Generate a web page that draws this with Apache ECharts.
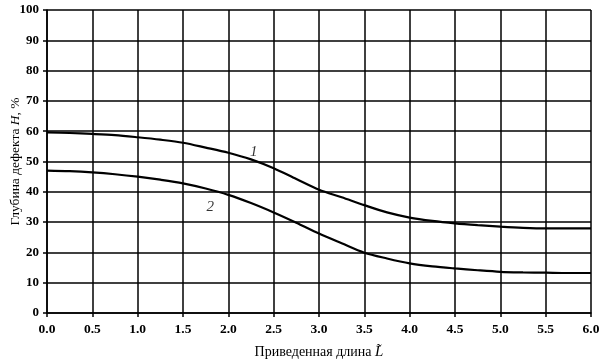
<!DOCTYPE html>
<html><head><meta charset="utf-8">
<script src="https://cdn.jsdelivr.net/npm/echarts@6/dist/echarts.min.js"></script>
<style>html,body{margin:0;padding:0;background:#fff}#c{width:605px;height:363px}</style>
</head><body><div id="c"></div>
<script>
const xValues = [0,0.25,0.5,0.75,1.0,1.25,1.5,1.75,2.0,2.25,2.5,2.75,3.0,3.25,3.5,3.75,4.0,4.25,4.5,4.75,5.0,5.25,5.5,5.75,6.0];
const curve1 = [59.6,59.4,59.1,58.7,58.0,57.2,56.2,54.6,52.9,50.7,47.8,44.2,40.7,38.2,35.6,33.2,31.5,30.4,29.6,29.0,28.5,28.1,27.9,27.9,27.9];
const curve2 = [47.0,46.8,46.4,45.8,45.0,44.0,42.8,41.1,39.0,36.3,33.2,29.8,26.2,23.0,19.9,18.0,16.4,15.4,14.7,14.1,13.6,13.4,13.3,13.2,13.2];
const curveLabels = [{name:'1', x:2.28, y:53}, {name:'2', x:1.80, y:35}];

const chart = echarts.init(document.getElementById('c'), null, {renderer:'canvas'});
const serif = '"Liberation Serif", "DejaVu Serif", serif';
chart.setOption({
  animation:false,
  backgroundColor:'#fff',
  grid:{left:47, right:14, top:10, bottom:50, containLabel:false, outerBoundsMode:'none'},
  xAxis:{
    type:'value', min:0, max:6, interval:0.5,
    axisLine:{lineStyle:{color:'#000', width:1.5}},
    axisTick:{show:true, length:4, lineStyle:{color:'#000', width:1.5}},
    splitLine:{show:true, lineStyle:{color:'#000', width:1.5}},
    axisLabel:{color:'#000', fontFamily:serif, fontWeight:'bold', fontSize:13.5, margin:10,
      formatter:v=>v.toFixed(1)},
    name:'{a|Приведенная длина }{i|L\u0303}',
    nameLocation:'middle', nameGap:32,
    nameTextStyle:{rich:{a:{fontFamily:serif, fontSize:14, color:'#000'}, i:{fontFamily:serif, fontSize:15, fontStyle:'italic', color:'#000'}}}
  },
  yAxis:{
    type:'value', min:0, max:100, interval:10,
    axisLine:{show:true, lineStyle:{color:'#000', width:1.5}},
    axisTick:{show:true, length:4, lineStyle:{color:'#000', width:1.5}},
    splitLine:{show:true, lineStyle:{color:'#000', width:1.5}},
    axisLabel:{color:'#000', fontFamily:serif, fontWeight:'bold', fontSize:13, margin:8},
    name:'{a|Глубина дефекта }{i|H}{a|, %}',
    nameLocation:'middle', nameGap:25, nameRotate:90, nameMoveOverlap:false,
    nameTextStyle:{rich:{a:{fontFamily:serif, fontSize:13.5, color:'#000'}, i:{fontFamily:serif, fontSize:13.5, fontStyle:'italic', color:'#000'}}}
  },
  series:[
    {type:'line', data:xValues.map((x,i)=>[x,curve1[i]]), smooth:0.3, showSymbol:false, lineStyle:{color:'#000', width:2.2}},
    {type:'line', data:xValues.map((x,i)=>[x,curve2[i]]), smooth:0.3, showSymbol:false, lineStyle:{color:'#000', width:2.2}},
    {type:'scatter', data:curveLabels.map(l=>[l.x,l.y,l.name]), symbolSize:0,
      label:{show:true, position:'inside', formatter:p=>p.data[2], color:'#000', fontFamily:serif, fontStyle:'italic', fontSize:15}}
  ]
});
</script></body></html>
